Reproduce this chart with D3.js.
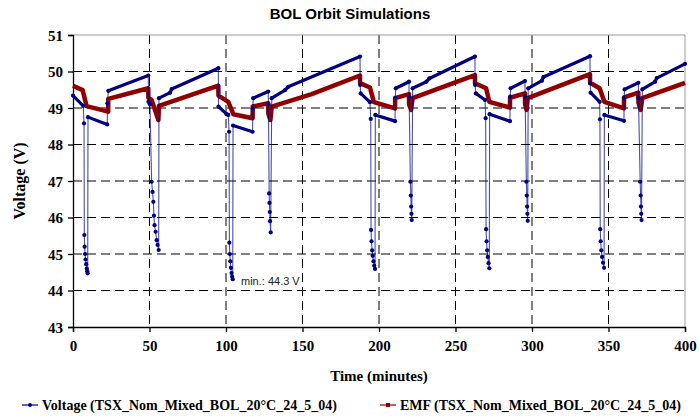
<!doctype html>
<html>
<head>
    <style>
        body { margin: 0; background: #fff; }
        .tick text { font-family: 'Liberation Serif', 'Times New Roman', serif; font-weight: bold; font-size: 15px; fill: #000; }
        .lab { font-family: 'Liberation Serif', 'Times New Roman', serif; font-weight: bold; font-size: 15px; }
        .leg { font-family: 'Liberation Serif', 'Times New Roman', serif; font-weight: bold; font-size: 14px; }
    </style>
    <script src="https://d3js.org/d3.v7.min.js"></script>
</head>
<body>
<script>
    /*** data ***/
    var vTime = [0,6.7,7.2, 7.4,7.6,7.9,8.2,8.6,9.0,9.3,9.6,
        9.8,22.4,22.5,23.1,49.2, 49.3,50.3,
        51.4,52.0,52.5,52.9,53.3,54.0,54.7,55.3,56.0,
        56.2,63.5,64.5,95, 95.1,100.4,101.5,102.0,
        102.2,102.5,102.8,103.2,103.6,104.0,104.4,
        104.6,117.4,117.5,117.8,127.6,127.7,
        128.2,128.4,128.6,128.8,129.2,
        129.9,138.6,140.7,187.6, 187.7,188,194.1,194.6,
        194.8,195.1,195.5,195.9,196.4,196.9,197.4,
        197.6,210.5,210.6,211,219.6,219.7,
        220.5,220.8,221.0,221.2,221.4,
        222,231,232.9,262.7, 262.8,263.3,269.3,269.7,
        270,270.3,270.7,271.1,271.6,272.1,
        272.3,285.6,285.7,286,295.4,295.5,
        296.3,296.6,296.8,297.0,297.2,
        297.5,306.5,307.5,337.9, 338,338.3,344.2,344.4,
        344.6,344.9,345.3,345.8,346.4,347.1,
        347.3,360.1,360.2,360.5,369.5,369.6,
        370.7,371,371.2,371.4,371.6,
        372.1,380.5,381.5,400];
    var vVolt = [49.34,49.06,48.58, 45.52,45.2,45.0,44.85,44.72,44.6,44.53,44.47,
        48.75,48.55,49.13,49.47,49.89, 49.17,49.10,
        46.98,46.7,46.43,46.05,45.79,45.61,45.38,45.25,45.11,
        49.27,49.42,49.52,50.09, 49.04,48.83,48.81,48.35,
        45.31,45.0,44.8,44.62,44.48,44.38,44.31,
        48.52,48.35,48.99,49.27,49.45,49.10,
        46.66,46.4,46.15,45.9,45.59,
        49.27,49.49,49.58,50.41, 49.63,49.40,49.16,48.70,
        45.66,45.35,45.1,44.95,44.8,44.68,44.59,
        48.81,48.64,49.28,49.54,49.72,49.31,
        46.98,46.6,46.3,46.1,45.93,
        49.54,49.72,49.81,50.41, 49.63,49.40,49.22,48.72,
        45.68,45.35,45.1,44.92,44.75,44.61,
        48.83,48.64,49.31,49.54,49.74,49.31,
        46.98,46.6,46.3,46.1,45.91,
        49.54,49.75,49.85,50.42, 49.68,49.42,49.17,48.69,
        45.68,45.35,45.1,44.92,44.76,44.62,
        48.81,48.65,49.27,49.51,49.69,49.27,
        46.98,46.6,46.3,46.1,45.93,
        49.51,49.72,49.82,50.21];

    var eTime = [0,6.3,8.9,23,23.05,49.2,49.25,51.4,55.8,56.2,95,95.05,101.5,104.8,117.4,117.45,127.6,127.65,129,129.9,
        156,187.6,187.65,194.1,196.7,210.5,210.55,219.6,219.65,221,222,262.7,262.75,270,272.1,285.6,285.65,295.4,295.45,296.5,297.2,
        337.9,337.95,344.2,347.3,360.1,360.15,369.5,369.55,371,372.1,400];
    var eEmf = [49.61,49.49,49.05,48.90,49.25,49.54,49.28,49.22,48.67,49.06,49.61,49.34,49.17,48.83,48.72,49.04,49.13,48.85,48.67,49.04,
        49.38,49.89,49.68,49.56,49.16,48.99,49.27,49.38,49.10,48.95,49.27,49.90,49.68,49.54,49.17,49.01,49.28,49.40,49.10,48.95,49.27,
        49.93,49.69,49.54,49.17,48.99,49.29,49.42,49.15,48.95,49.27,49.69];

    var xTicks = [0,50,100,150,200,250,300,350,400];
    var yTicks = [43,44,45,46,47,48,49,50,51];
    var titleText = "BOL Orbit Simulations";
    var legendNames = ["Voltage (TSX_Nom_Mixed_BOL_20\u00B0C_24_5_04)", "EMF (TSX_Nom_Mixed_BOL_20\u00B0C_24_5_04)"];
    var minNote = "min.: 44.3 V";

    var W = 699, H = 417;
    var mL = 73, mR = 685, mT = 35, mB = 327;
    var blue = "#000080", red = "#900000";

    var svg = d3.select("body").append("svg").attr("width", W).attr("height", H);

    var x = d3.scaleLinear().domain([0, 400]).range([mL, mR]);
    var y = d3.scaleLinear().domain([43, 51]).range([mB, mT]);

    // grid
    svg.append("g").selectAll("line").data(yTicks.slice(1, -1)).enter().append("line")
        .attr("x1", mL).attr("x2", mR).attr("y1", d => y(d)).attr("y2", d => y(d))
        .attr("stroke", "#000").attr("stroke-width", 1).attr("stroke-dasharray", "9,5");
    svg.append("g").selectAll("line").data(xTicks.slice(1, -1)).enter().append("line")
        .attr("y1", mT).attr("y2", mB).attr("x1", d => x(d)).attr("x2", d => x(d))
        .attr("stroke", "#000").attr("stroke-width", 1).attr("stroke-dasharray", "9,5");

    // grey frame on top / right
    svg.append("line").attr("x1", mL).attr("x2", mR).attr("y1", mT).attr("y2", mT).attr("stroke", "#999");
    svg.append("line").attr("x1", mR).attr("x2", mR).attr("y1", mT).attr("y2", mB).attr("stroke", "#999");

    // axes
    var gx = svg.append("g").attr("transform", "translate(0," + mB + ")")
        .call(d3.axisBottom(x).tickValues(xTicks).tickSize(5).tickPadding(8).tickFormat(d3.format("d")));
    var gy = svg.append("g").attr("transform", "translate(" + mL + ",0)")
        .call(d3.axisLeft(y).tickValues(yTicks).tickSize(5).tickPadding(5).tickFormat(d3.format("d")));
    svg.selectAll(".domain, .tick line").attr("stroke", "#000").attr("stroke-width", 1.3);
    gy.selectAll(".tick text").attr("dy", "0.36em");

    var vPts = vTime.map((t, i) => [t, vVolt[i]]);
    var ePts = eTime.map((t, i) => [t, eEmf[i]]);
    var line = d3.line().x(d => x(d[0])).y(d => y(d[1]));

    // EMF
    svg.append("path").datum(ePts).attr("d", line).attr("fill", "none")
        .attr("stroke", red).attr("stroke-width", 4.5).attr("stroke-linejoin", "round");

    // Voltage: thin line everywhere, thick where the samples are dense (slow parts)
    svg.append("path").datum(vPts).attr("d", line).attr("fill", "none")
        .attr("stroke", blue).attr("stroke-width", 1.1).attr("stroke-opacity", 0.7);
    var slow = [];
    for (var i = 1; i < vPts.length; i++) {
        if (vPts[i][0] - vPts[i - 1][0] > 0.8 && vPts[i][1] > 48 && vPts[i - 1][1] > 48) slow.push([vPts[i - 1], vPts[i]]);
    }
    svg.append("g").selectAll("path").data(slow).enter().append("path")
        .attr("d", line).attr("stroke", blue).attr("stroke-width", 3.2).attr("stroke-linecap", "round");
    svg.append("g").selectAll("circle").data(vPts).enter().append("circle")
        .attr("cx", d => x(d[0])).attr("cy", d => y(d[1])).attr("r", 2.1).attr("fill", blue);

    // title, labels
    svg.append("text").attr("x", 350).attr("y", 19).attr("text-anchor", "middle")
        .style("font-family", "'Liberation Sans', Arial, sans-serif").style("font-weight", "bold").style("font-size", "15px")
        .text(titleText);
    svg.append("text").attr("class", "lab").attr("text-anchor", "middle").style("font-size", "16px")
        .attr("transform", "translate(25," + ((mT + mB) / 2) + ") rotate(-90)").text("Voltage (V)");
    svg.append("text").attr("class", "lab").attr("text-anchor", "middle")
        .attr("x", (mL + mR) / 2).attr("y", 381).text("Time (minutes)");
    svg.append("text").attr("x", 241).attr("y", 285)
        .style("font-family", "'Liberation Sans', Arial, sans-serif").style("font-size", "11px").style("fill", "#222")
        .text(minNote);

    // legend
    var leg = [{x: 22, c: blue, n: legendNames[0], m: "dot"}, {x: 380, c: red, n: legendNames[1], m: "sq"}];
    leg.forEach(function (l) {
        var g = svg.append("g");
        g.append("line").attr("x1", l.x).attr("x2", l.x + 16).attr("y1", 405).attr("y2", 405).attr("stroke", l.c).attr("stroke-width", 1.2);
        if (l.m === "dot") g.append("circle").attr("cx", l.x + 8).attr("cy", 405).attr("r", 2).attr("fill", l.c);
        else g.append("rect").attr("x", l.x + 6).attr("y", 403).attr("width", 4).attr("height", 4).attr("fill", l.c);
        g.append("text").attr("class", "leg").attr("x", l.x + 20).attr("y", 410).text(l.n);
    });
</script>
</body>
</html>
